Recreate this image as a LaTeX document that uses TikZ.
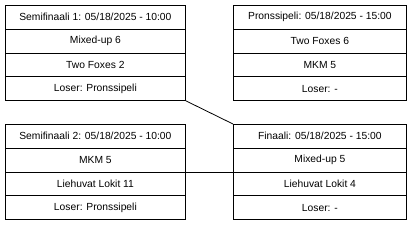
\documentclass[tikz,border=0pt]{standalone}
\usepackage{fontspec}
\setmainfont{Liberation Sans}
\begin{document}
\begin{tikzpicture}[x=1pt,y=-1pt,
  cell/.style={draw=black,line width=0.8pt,rectangle,inner sep=0pt,minimum height=23.75pt,font=\fontsize{10.3}{12}\selectfont,anchor=north west},
  wide/.style={cell,minimum width=180pt},
  narrow/.style={cell,minimum width=173pt},
  link/.style={draw=black,line width=0.8pt}]
\useasboundingbox (0,0) rectangle (411,225);
% Semifinaali 1
\node[wide] (a1) at (5,5) {Semifinaali 1: 05/18/2025 - 10:00};
\node[wide] (a2) at (5,28.75) {Mixed-up 6};
\node[wide] (a3) at (5,52.5) {Two Foxes 2};
\node[wide] (a4) at (5,76.25) {Loser: Pronssipeli};
% Pronssipeli
\node[narrow] (b1) at (233,5) {Pronssipeli: 05/18/2025 - 15:00};
\node[narrow] (b2) at (233,28.75) {Two Foxes 6};
\node[narrow] (b3) at (233,52.5) {MKM 5};
\node[narrow] (b4) at (233,76.25) {Loser: -};
% Semifinaali 2
\node[wide] (c1) at (5,124) {Semifinaali 2: 05/18/2025 - 10:00};
\node[wide] (c2) at (5,147.75) {MKM 5};
\node[wide] (c3) at (5,171.5) {Liehuvat Lokit 11};
\node[wide] (c4) at (5,195.25) {Loser: Pronssipeli};
% Finaali
\node[narrow] (d1) at (233,124) {Finaali: 05/18/2025 - 15:00};
\node[narrow] (d2) at (233,147.75) {Mixed-up 5};
\node[narrow] (d3) at (233,171.5) {Liehuvat Lokit 4};
\node[narrow] (d4) at (233,195.25) {Loser: -};
% connectors
\draw[link] (a4.south east) -- (d1.north west);
\draw[link] (c2.south east) -- (d2.south west);
\end{tikzpicture}
\end{document}
